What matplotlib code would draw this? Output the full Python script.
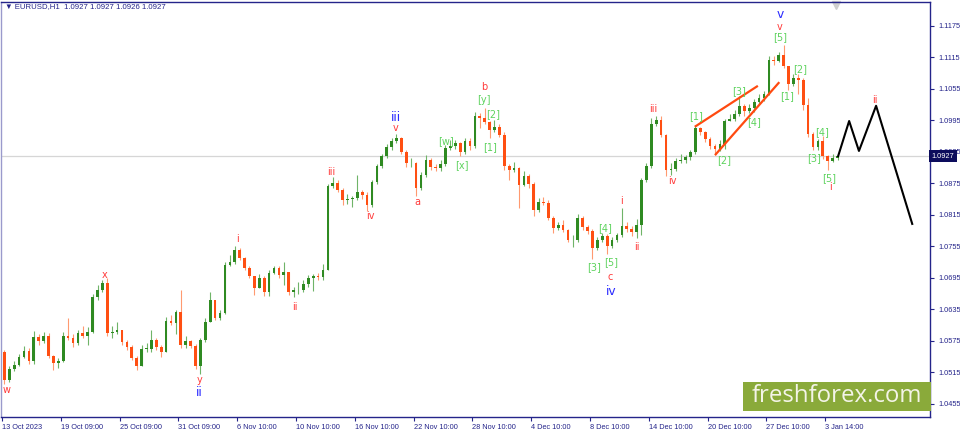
import matplotlib
matplotlib.use("Agg")
import matplotlib.pyplot as plt
from matplotlib.patches import Rectangle
from matplotlib.transforms import blended_transform_factory
import numpy as np

plt.rcParams['font.family'] = ['Liberation Sans', 'DejaVu Sans']

# ---------------- data (8-hour candles) ----------------
bar_hours = 8
first_open = 1.0554
closes = [
    1.0501, 1.0522, 1.0529, 1.0545, 1.0556, 1.0537, 1.0583, 1.0575, 1.0585, 1.0546,
    1.0533, 1.0537, 1.0585, 1.0581, 1.0571, 1.0590, 1.0585, 1.0592, 1.0659, 1.0672,
    1.0685, 1.0590, 1.0592, 1.0596, 1.0573, 1.0564, 1.0543, 1.0527, 1.0560, 1.0560,
    1.0577, 1.0564, 1.0554, 1.0613, 1.0609, 1.0630, 1.0567, 1.0575, 1.0566, 1.0527,
    1.0577, 1.0611, 1.0653, 1.0619, 1.0628, 1.0720, 1.0725, 1.0748, 1.0733, 1.0714,
    1.0699, 1.0676, 1.0695, 1.0668, 1.0705, 1.0714, 1.0701, 1.0706, 1.0668, 1.0672,
    1.0672, 1.0684, 1.0695, 1.0699, 1.0697, 1.0710, 1.0870, 1.0876, 1.0863, 1.0844,
    1.0846, 1.0847, 1.0859, 1.0853, 1.0834, 1.0878, 1.0908, 1.0927, 1.0945, 1.0956,
    1.0962, 1.0935, 1.0914, 1.0914, 1.0866, 1.0891, 1.0920, 1.0906, 1.0904, 1.0912,
    1.0943, 1.0946, 1.0952, 1.0935, 1.0956, 1.0946, 1.1004, 1.1000, 1.0992, 1.0977,
    1.0983, 1.0967, 1.0908, 1.0901, 1.0904, 1.0872, 1.0889, 1.0874, 1.0824, 1.0840,
    1.0838, 1.0809, 1.0790, 1.0796, 1.0786, 1.0767, 1.0767, 1.0809, 1.0792, 1.0784,
    1.0752, 1.0767, 1.0775, 1.0756, 1.0767, 1.0777, 1.0794, 1.0788, 1.0783, 1.0796,
    1.0882, 1.0908, 1.0988, 1.0996, 1.0967, 1.0901, 1.0903, 1.0918, 1.0920, 1.0925,
    1.0935, 1.0981, 1.0973, 1.0960, 1.0946, 1.0941, 1.0950, 1.0994, 1.0998, 1.1007,
    1.1023, 1.1013, 1.1019, 1.1030, 1.1038, 1.1046, 1.1110, 1.1108, 1.1120, 1.1099,
    1.1064, 1.1076, 1.1072, 1.1025, 1.0969, 1.0945, 1.0956, 1.0927, 1.0918, 1.0924,
    1.0927]
highs = [
    1.0558, 1.0527, 1.0537, 1.0550, 1.0566, 1.0562, 1.0594, 1.0588, 1.0592, 1.0590,
    1.0548, 1.0543, 1.0592, 1.0619, 1.0588, 1.0596, 1.0604, 1.0602, 1.0664, 1.0682,
    1.0691, 1.0695, 1.0604, 1.0611, 1.0596, 1.0577, 1.0567, 1.0546, 1.0567, 1.0571,
    1.0596, 1.0581, 1.0567, 1.0621, 1.0625, 1.0634, 1.0672, 1.0585, 1.0577, 1.0569,
    1.0581, 1.0619, 1.0668, 1.0653, 1.0634, 1.0725, 1.0739, 1.0756, 1.0752, 1.0735,
    1.0718, 1.0699, 1.0703, 1.0699, 1.0710, 1.0718, 1.0718, 1.0725, 1.0706, 1.0678,
    1.0687, 1.0691, 1.0701, 1.0703, 1.0705, 1.0722, 1.0874, 1.0887, 1.0882, 1.0866,
    1.0855, 1.0851, 1.0891, 1.0863, 1.0859, 1.0882, 1.0912, 1.0931, 1.0950, 1.0962,
    1.0969, 1.0964, 1.0939, 1.0924, 1.0916, 1.0897, 1.0929, 1.0924, 1.0912, 1.0920,
    1.0948, 1.0958, 1.0958, 1.0954, 1.0962, 1.0962, 1.1011, 1.1009, 1.1019, 1.0994,
    1.0996, 1.0988, 1.0973, 1.0912, 1.0916, 1.0906, 1.0899, 1.0893, 1.0878, 1.0847,
    1.0849, 1.0844, 1.0813, 1.0802, 1.0805, 1.0788, 1.0777, 1.0817, 1.0813, 1.0796,
    1.0788, 1.0773, 1.0781, 1.0779, 1.0773, 1.0781, 1.0828, 1.0802, 1.0794, 1.0807,
    1.0885, 1.0914, 1.1000, 1.1004, 1.1004, 1.0969, 1.0914, 1.0924, 1.0931, 1.0929,
    1.0939, 1.0986, 1.0983, 1.0975, 1.0964, 1.0950, 1.0958, 1.0998, 1.1007, 1.1015,
    1.1042, 1.1026, 1.1026, 1.1036, 1.1046, 1.1051, 1.1118, 1.1118, 1.1126, 1.1139,
    1.1099, 1.1084, 1.1084, 1.1076, 1.1038, 1.0973, 1.0960, 1.0966, 1.0929, 1.0931,
    1.0931]
lows = [
    1.0493, 1.0497, 1.0518, 1.0527, 1.0543, 1.0531, 1.0531, 1.0567, 1.0571, 1.0543,
    1.0520, 1.0524, 1.0535, 1.0577, 1.0564, 1.0567, 1.0581, 1.0567, 1.0590, 1.0653,
    1.0668, 1.0585, 1.0581, 1.0588, 1.0567, 1.0558, 1.0539, 1.0520, 1.0527, 1.0554,
    1.0554, 1.0558, 1.0545, 1.0554, 1.0606, 1.0588, 1.0562, 1.0562, 1.0562, 1.0522,
    1.0512, 1.0573, 1.0611, 1.0615, 1.0615, 1.0626, 1.0718, 1.0722, 1.0729, 1.0710,
    1.0695, 1.0663, 1.0676, 1.0661, 1.0661, 1.0703, 1.0695, 1.0682, 1.0663, 1.0659,
    1.0664, 1.0668, 1.0678, 1.0670, 1.0691, 1.0691, 1.0710, 1.0866, 1.0859, 1.0834,
    1.0836, 1.0830, 1.0844, 1.0846, 1.0823, 1.0830, 1.0874, 1.0904, 1.0924, 1.0939,
    1.0952, 1.0931, 1.0906, 1.0906, 1.0851, 1.0863, 1.0887, 1.0901, 1.0899, 1.0899,
    1.0908, 1.0939, 1.0941, 1.0927, 1.0931, 1.0939, 1.0943, 1.0981, 1.0988, 1.0962,
    1.0973, 1.0964, 1.0901, 1.0882, 1.0897, 1.0828, 1.0870, 1.0866, 1.0813, 1.0821,
    1.0834, 1.0805, 1.0781, 1.0786, 1.0783, 1.0764, 1.0754, 1.0764, 1.0786, 1.0779,
    1.0731, 1.0748, 1.0764, 1.0741, 1.0752, 1.0764, 1.0773, 1.0783, 1.0775, 1.0771,
    1.0777, 1.0878, 1.0904, 1.0985, 1.0964, 1.0889, 1.0891, 1.0899, 1.0914, 1.0914,
    1.0920, 1.0931, 1.0967, 1.0954, 1.0941, 1.0929, 1.0937, 1.0941, 1.0994, 1.0994,
    1.1004, 1.1004, 1.1009, 1.1011, 1.1026, 1.1032, 1.1044, 1.1101, 1.1106, 1.1095,
    1.1053, 1.1061, 1.1046, 1.1015, 1.0964, 1.0939, 1.0939, 1.0922, 1.0901, 1.0916,
    1.0920]

last_price = 1.0927
header_text = "\u25BC EURUSD,H1  1.0927 1.0927 1.0926 1.0927"

# x tick labels (positions in hourly-bar index)
tick_hours = [0, 96, 192, 288, 384, 480, 576, 672, 768, 864, 960, 1056, 1152, 1248, 1344]
tick_labels = ["13 Oct 2023", "19 Oct 09:00", "25 Oct 09:00", "31 Oct 09:00",
               "6 Nov 10:00", "10 Nov 10:00", "16 Nov 10:00", "22 Nov 10:00",
               "28 Nov 10:00", "4 Dec 10:00", "8 Dec 10:00", "14 Dec 10:00",
               "20 Dec 10:00", "27 Dec 10:00", "3 Jan 14:00"]
price_ticks = [1.1175, 1.1115, 1.1055, 1.0995, 1.0935, 1.0875, 1.0815,
               1.0755, 1.0695, 1.0635, 1.0575, 1.0515, 1.0455]

# Elliott wave labels: (text, hour index, price, colour key, size key)
wave_labels = [
    ("w", 8, 1.0482, "red", "s"), ("x", 168, 1.0701, "red", "s"),
    ("y", 322, 1.0501, "red", "s"), ("ii", 322, 1.0476, "blue", "l"),
    ("i", 384, 1.0769, "red", "s"), ("ii", 478, 1.0640, "red", "s"),
    ("iii", 537, 1.0897, "red", "s"), ("iv", 601, 1.0813, "red", "s"),
    ("v", 643, 1.0981, "red", "s"), ("iii", 643, 1.1000, "blue", "l"),
    ("a", 678, 1.0840, "red", "s"), ("[w]", 725, 1.0956, "green", "s"),
    ("[x]", 751, 1.0910, "green", "s"), ("b", 787, 1.1059, "red", "s"),
    ("[y]", 787, 1.1034, "green", "s"), ("[2]", 802, 1.1007, "green", "s"),
    ("[1]", 797, 1.0944, "green", "s"), ("[3]", 967, 1.0716, "green", "s"),
    ("[4]", 985, 1.0790, "green", "s"), ("[5]", 994, 1.0725, "green", "s"),
    ("c", 993, 1.0697, "red", "s"), ("iv", 994, 1.0670, "blue", "l"),
    ("i", 1012, 1.0842, "red", "s"), ("ii", 1037, 1.0754, "red", "s"),
    ("iii", 1063, 1.1017, "red", "s"), ("iv", 1094, 1.0880, "red", "s"),
    ("[1]", 1133, 1.1004, "green", "s"), ("[2]", 1179, 1.0920, "green", "s"),
    ("[3]", 1203, 1.1051, "green", "s"), ("[4]", 1228, 1.0992, "green", "s"),
    ("[5]", 1270, 1.1154, "green", "s"), ("v", 1270, 1.1173, "red", "s"),
    ("v", 1270, 1.1196, "blue", "l"), ("[1]", 1282, 1.1042, "green", "s"),
    ("[2]", 1303, 1.1093, "green", "s"), ("[3]", 1326, 1.0924, "green", "s"),
    ("[4]", 1339, 1.0973, "green", "s"), ("[5]", 1350, 1.0885, "green", "s"),
    ("i", 1352, 1.0868, "red", "s"), ("ii", 1425, 1.1034, "red", "s"),
]

# wedge lines (hour index, price)
wedge_upper_h = [1131, 1234]
wedge_upper_p = [1.0983, 1.1061]
wedge_lower_h = [1164, 1269]
wedge_lower_p = [1.0929, 1.1068]

# forecast path
proj_h = [1365, 1383, 1399, 1427, 1486]
proj_p = [1.0927, 1.0994, 1.0937, 1.1023, 1.0798]

# ---------------- styling ----------------
NAVY = "#24248a"
UP = "#2f8a22"
DOWN = "#ff4f12"
UP_WICK = "#6fb468"
DOWN_WICK = "#ff9a70"
label_colors = {"red": "#ff3b3b", "green": "#5fd35f", "blue": "#2a2aff"}
label_sizes = {"s": 7.0, "l": 8.8}

W, H = 960, 430
fig = plt.figure(figsize=(W / 100, H / 100), dpi=100)
fig.patch.set_facecolor("white")
ax = fig.add_axes([1 / W, 13 / H, 929 / W, 415 / H])
ax.set_facecolor("white")

ax.set_xlim(-1.6, 1515)
ax.set_ylim(1.04302, 1.12207)

# current price line
ax.axhline(last_price, color="#d6d6d6", lw=0.9, zorder=0)

# candles
n = len(closes)
opens = [first_open] + closes[:-1]
xs = np.arange(n) * bar_hours + bar_hours / 2
for i in range(n):
    o, c = opens[i], closes[i]
    hi = max(highs[i], o, c)
    lo = min(lows[i], o, c)
    up = c >= o
    ax.vlines(xs[i], lo, hi, colors=UP_WICK if up else DOWN_WICK, lw=0.8, zorder=2)
    bot = min(o, c)
    ht = max(abs(c - o), 0.00008)
    ax.bar(xs[i], ht, bottom=bot, width=4.4, color=UP if up else DOWN,
           linewidth=0, zorder=3)

# wedge lines
ax.plot(wedge_upper_h, wedge_upper_p, color="#ff4a10", lw=1.6, zorder=4, solid_capstyle="butt")
ax.plot(wedge_lower_h, wedge_lower_p, color="#ff4a10", lw=1.6, zorder=4, solid_capstyle="butt")

# projection
ax.plot(proj_h, proj_p, color="black", lw=1.5, zorder=4)

# wave labels
for txt, hx, py, ck, sk in wave_labels:
    ax.text(hx, py, txt, color=label_colors[ck], fontsize=label_sizes[sk],
            family=["DejaVu Sans"], ha="center", va="center", zorder=5)

# axes styling
for s in ax.spines.values():
    s.set_color(NAVY)
    s.set_linewidth(1.0)
ax.spines["left"].set_color("#9a9acc")

ax.yaxis.tick_right()
ax.set_yticks(price_ticks)
ax.set_yticklabels([f"{v:.4f}" for v in price_ticks])
ax.tick_params(axis="y", direction="out", length=3, width=0.8, colors=NAVY,
               labelsize=5.3, pad=3, labelcolor=NAVY)

ax.set_xticks(tick_hours)
ax.set_xticklabels(tick_labels)
for lab in ax.get_xticklabels():
    lab.set_horizontalalignment("left")
ax.tick_params(axis="x", direction="out", length=3, width=0.8, colors=NAVY,
               labelsize=5.3, pad=2, labelcolor=NAVY)

# current price box on the right axis
trans = blended_transform_factory(ax.transAxes, ax.transData)
ax.text(1.002, last_price, f"{last_price:.4f}", transform=trans, ha="left", va="center",
        color="white", fontsize=5.3, zorder=10, clip_on=False,
        bbox=dict(boxstyle="square,pad=0.35", fc="#0c0c5c", ec="none"))

# small shift marker at the top
ax.plot([1361], [0.992], marker="v", color="#cfcfcf", markersize=6,
        transform=blended_transform_factory(ax.transData, ax.transAxes), clip_on=False)

# header
fig.text(5 / W, 1 - 7 / H, header_text, color=NAVY, fontsize=5.6, ha="left", va="center",
         family=["Liberation Sans", "DejaVu Sans"])

# watermark
fig.patches.append(Rectangle((743 / W, 19 / H), 188 / W, 29 / H, transform=fig.transFigure,
                             facecolor="#8aaa3a", edgecolor="none", zorder=20))
fig.text((743 + 94) / W, 33.5 / H, "freshforex.com", color="#f4f4e8", fontsize=17.3,
         family=["Open Sans", "DejaVu Sans"], ha="center", va="center", zorder=21)

fig.savefig("out.png", dpi=100, facecolor="white")
